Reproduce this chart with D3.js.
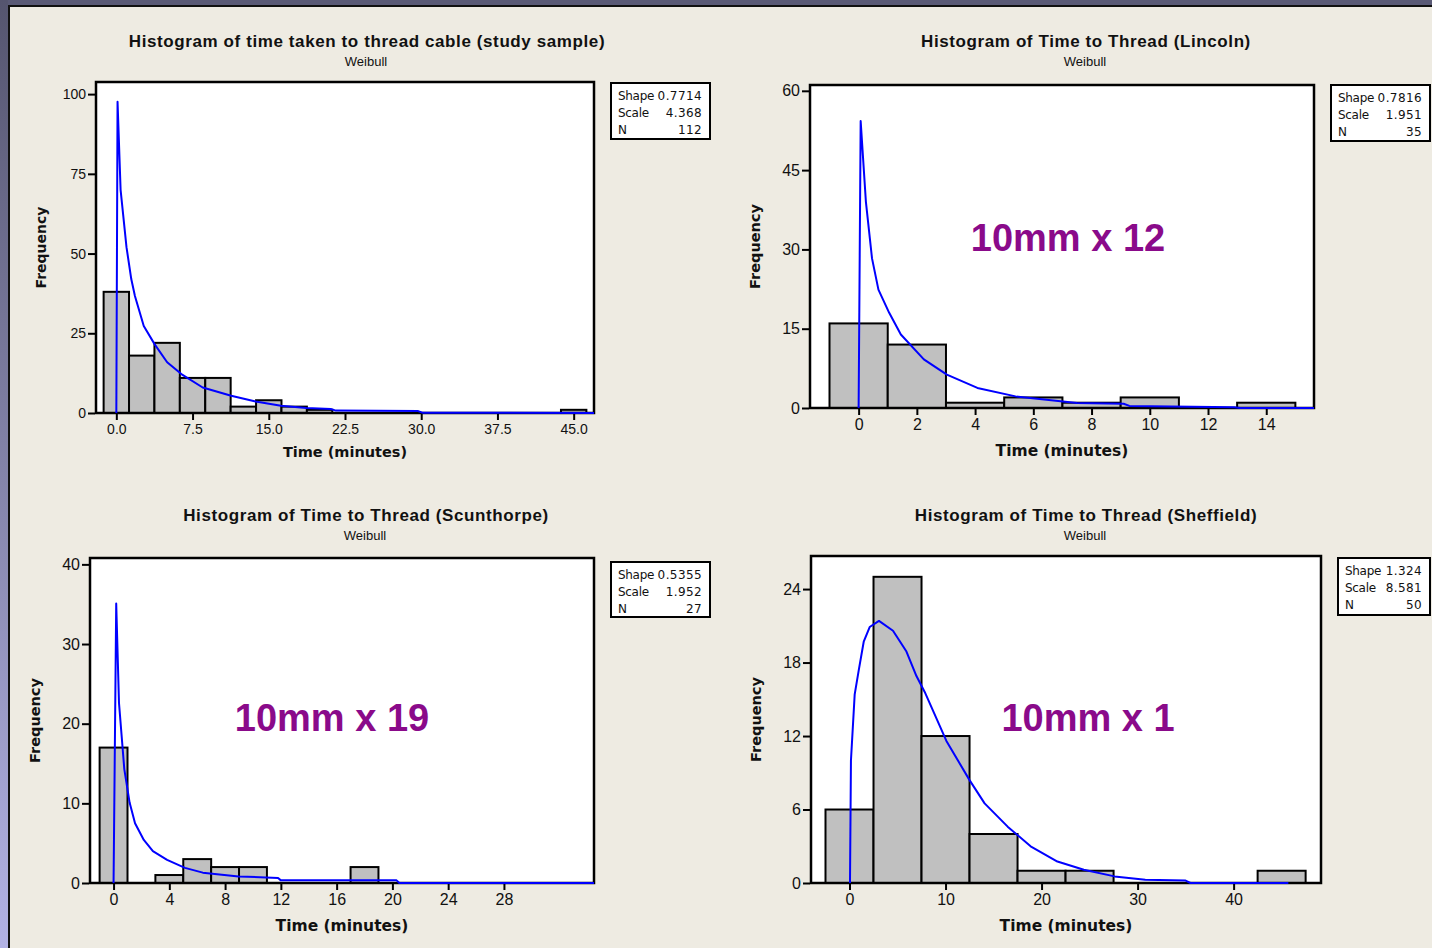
<!DOCTYPE html>
<html>
<head>
<meta charset="utf-8">
<script src="https://cdn.jsdelivr.net/npm/d3@7"></script>
<style>
  html, body { margin: 0; padding: 0; background: #eeebe2; }
  svg { display: block; }
</style>
</head>
<body>
<svg id="chart" width="1432" height="948"></svg>
<script>
// titles and labels
const titles = [
  'Histogram of time taken to thread cable (study sample)',
  'Histogram of Time to Thread (Lincoln)',
  'Histogram of Time to Thread (Scunthorpe)',
  'Histogram of Time to Thread (Sheffield)'
];
const subtitle = 'Weibull';
const xLabel = 'Time (minutes)';
const yLabel = 'Frequency';
const notes = ['', '10mm x 12', '10mm x 19', '10mm x 1'];

// histogram bins (centres) and counts
const binsStudy = [0, 2.5, 5, 7.5, 10, 12.5, 15, 17.5, 20, 22.5, 25, 27.5, 30, 32.5, 35, 37.5, 40, 42.5, 45];
const countsStudy = [38, 18, 22, 11, 11, 2, 4, 2, 1, 0, 0, 0, 0, 0, 0, 0, 0, 0, 1];
const binsLincoln = [0, 2, 4, 6, 8, 10, 12, 14];
const countsLincoln = [16, 12, 1, 2, 1, 2, 0, 1];
const binsScunthorpe = [0, 2, 4, 6, 8, 10, 12, 14, 16, 18];
const countsScunthorpe = [17, 0, 1, 3, 2, 2, 0, 0, 0, 2];
const binsSheffield = [0, 5, 10, 15, 20, 25, 30, 35, 40, 45];
const countsSheffield = [6, 25, 12, 4, 1, 1, 0, 0, 0, 1];
const binWidths = [2.5, 2, 2, 5];

// fitted weibull curves [time, frequency]
const fitStudy = [[0, 0], [0.12, 97.6], [0.42, 70], [1.0, 52], [1.47, 42], [1.83, 36.7], [2.7, 27.3], [3.76, 21.6],
  [5.0, 15.9], [6.4, 12.2], [8.5, 8.0], [11.3, 5.4], [13.7, 3.6], [16.2, 2.3], [18.7, 1.6], [21.1, 1.25],
  [21.6, 0.75], [29.7, 0.6], [30.1, 0.1], [47, 0]];
const fitLincoln = [[0, 0], [0.07, 54.3], [0.25, 39], [0.46, 28.3], [0.68, 22.4], [1.05, 18.0], [1.45, 13.9],
  [2.24, 9.2], [3.03, 6.3], [4.08, 3.8], [5.39, 2.2], [7.5, 0.95], [9.1, 0.8], [9.3, 0.4], [12.9, 0.15], [13.1, 0], [15.64, 0]];
const fitScunthorpe = [[0, 0], [0.19, 35.1], [0.39, 22.6], [0.77, 14.3], [1.15, 10.1], [1.54, 7.5], [2.17, 5.4],
  [2.82, 4.0], [3.84, 2.9], [5.12, 1.9], [6.4, 1.3], [8.97, 0.83], [11.8, 0.63], [12.0, 0.33], [20.3, 0.33],
  [20.5, 0], [34.46, 0]];
const fitSheffield = [[0.05, 0], [0.15, 10], [0.54, 15.4], [0.99, 17.5], [1.48, 19.7], [2.1, 20.9], [3.07, 21.4],
  [4.53, 20.6], [5.93, 18.9], [6.97, 16.9], [7.83, 15.6], [10.09, 11.6], [12.5, 8.4], [14.07, 6.5], [16.47, 4.6],
  [18.86, 3.0], [21.65, 1.75], [24.4, 1.08], [27.6, 0.54], [30.8, 0.27], [35.0, 0.2], [35.5, 0], [45.7, 0]];

// legend values
const shapes = ['0.7714', '0.7816', '0.5355', '1.324'];
const scales = ['4.368', '1.951', '1.952', '8.581'];
const ns = ['112', '35', '27', '50'];

// tick values
const xTicksStudy = [0, 7.5, 15, 22.5, 30, 37.5, 45];
const yTicksStudy = [0, 25, 50, 75, 100];
const xTicksLincoln = [0, 2, 4, 6, 8, 10, 12, 14];
const yTicksLincoln = [0, 15, 30, 45, 60];
const xTicksScunthorpe = [0, 4, 8, 12, 16, 20, 24, 28];
const yTicksScunthorpe = [0, 10, 20, 30, 40];
const xTicksSheffield = [0, 10, 20, 30, 40];
const yTicksSheffield = [0, 6, 12, 18, 24];

const W = 1432, H = 948;
const svg = d3.select('#chart');

// window edge
const defs = svg.append('defs');
const grad = defs.append('linearGradient').attr('id', 'edge')
  .attr('x1', 0).attr('y1', 0).attr('x2', 0).attr('y2', 1);
grad.append('stop').attr('offset', '0%').attr('stop-color', '#55556f');
grad.append('stop').attr('offset', '100%').attr('stop-color', '#b2b2e4');

svg.append('rect').attr('width', W).attr('height', H).attr('fill', '#eeebe2');
svg.append('rect').attr('x', 0).attr('y', 0).attr('width', W).attr('height', 5).attr('fill', '#5a5a76');
svg.append('rect').attr('x', 0).attr('y', 0).attr('width', 8).attr('height', H).attr('fill', 'url(#edge)');
svg.append('line').attr('x1', 8).attr('x2', W).attr('y1', 6).attr('y2', 6).attr('stroke', '#111').attr('stroke-width', 2);
svg.append('line').attr('x1', 9).attr('x2', 9).attr('y1', 5).attr('y2', H).attr('stroke', '#111').attr('stroke-width', 2);

// layout of the four panels (pixels) and per panel text sizes
const panels = [
  { bins: binsStudy, counts: countsStudy, fit: fitStudy, xTicks: xTicksStudy, yTicks: yTicksStudy,
    fmt: d3.format('.1f'), left: 96, right: 594, top: 82, bottom: 413, xDomain: [-2.0, 47.0], yMax: 103.8,
    cx: 367, titleY: 47, legend: [611, 83, 99, 56], note: null,
    tickFont: 14, labelFont: 14.5, freqFont: 14, labelGap: 44 },
  { bins: binsLincoln, counts: countsLincoln, fit: fitLincoln, xTicks: xTicksLincoln, yTicks: yTicksLincoln,
    fmt: d3.format('d'), left: 810, right: 1314, top: 85, bottom: 408, xDomain: [-1.67, 15.64], yMax: 61.1,
    cx: 1086, titleY: 47, legend: [1331, 85, 99, 56], note: [1068, 251],
    tickFont: 16, labelFont: 15.5, freqFont: 14.5, labelGap: 48 },
  { bins: binsScunthorpe, counts: countsScunthorpe, fit: fitScunthorpe, xTicks: xTicksScunthorpe, yTicks: yTicksScunthorpe,
    fmt: d3.format('d'), left: 90, right: 594, top: 558, bottom: 883, xDomain: [-1.69, 34.46], yMax: 40.8,
    cx: 366, titleY: 521, legend: [611, 562, 99, 55], note: [332, 731],
    tickFont: 16, labelFont: 15.5, freqFont: 14.5, labelGap: 48 },
  { bins: binsSheffield, counts: countsSheffield, fit: fitSheffield, xTicks: xTicksSheffield, yTicks: yTicksSheffield,
    fmt: d3.format('d'), left: 811, right: 1321, top: 556, bottom: 883, xDomain: [-4.01, 49.1], yMax: 26.7,
    cx: 1086, titleY: 521, legend: [1338, 558, 92, 57], note: [1088, 731],
    tickFont: 16, labelFont: 15.5, freqFont: 14.5, labelGap: 48 }
];

panels.forEach((p, i) => drawPanel(p, i));

function drawPanel(p, i) {
  const g = svg.append('g');
  const x = d3.scaleLinear().domain(p.xDomain).range([p.left, p.right]);
  const y = d3.scaleLinear().domain([0, p.yMax]).range([p.bottom, p.top]);
  const bw = binWidths[i];

  g.append('text')
    .attr('x', p.cx).attr('y', p.titleY)
    .attr('text-anchor', 'middle')
    .style('font-family', 'Liberation Sans, Arial, sans-serif')
    .style('font-weight', 'bold')
    .style('font-size', '17px')
    .style('letter-spacing', '0.6px')
    .attr('fill', '#111')
    .text(titles[i]);
  g.append('text')
    .attr('x', p.cx - 1).attr('y', p.titleY + 19)
    .attr('text-anchor', 'middle')
    .style('font-family', 'Liberation Sans, Arial, sans-serif')
    .style('font-size', '13px')
    .attr('fill', '#111')
    .text(subtitle);

  g.append('rect')
    .attr('x', p.left).attr('y', p.top)
    .attr('width', p.right - p.left).attr('height', p.bottom - p.top)
    .attr('fill', '#fff');

  const bars = p.bins.map((c, k) => ({ c: c, n: p.counts[k] })).filter(d => d.n > 0);
  g.selectAll('rect.bar')
    .data(bars)
    .join('rect')
    .attr('class', 'bar')
    .attr('x', d => x(d.c - bw / 2))
    .attr('width', d => x(d.c + bw / 2) - x(d.c - bw / 2))
    .attr('y', d => y(d.n))
    .attr('height', d => y(0) - y(d.n))
    .attr('fill', '#c0c0c0')
    .attr('stroke', '#000')
    .attr('stroke-width', 2);

  g.append('rect')
    .attr('x', p.left).attr('y', p.top)
    .attr('width', p.right - p.left).attr('height', p.bottom - p.top)
    .attr('fill', 'none')
    .attr('stroke', '#000')
    .attr('stroke-width', 2.5);

  const xAxis = g.append('g')
    .attr('transform', `translate(0,${p.bottom + 1})`)
    .call(d3.axisBottom(x).tickValues(p.xTicks).tickFormat(p.fmt).tickSize(6).tickPadding(4));
  const yAxis = g.append('g')
    .attr('transform', `translate(${p.left - 1},0)`)
    .call(d3.axisLeft(y).tickValues(p.yTicks).tickSize(7).tickPadding(2));
  [xAxis, yAxis].forEach(a => {
    a.select('.domain').remove();
    a.selectAll('.tick line').attr('stroke', '#000').attr('stroke-width', 2);
    a.selectAll('.tick text')
      .attr('fill', '#111')
      .style('font-family', 'Liberation Sans, Arial, sans-serif')
      .style('font-size', p.tickFont + 'px');
  });

  const line = d3.line()
    .x(d => x(d[0]))
    .y(d => y(d[1]));
  g.append('path')
    .datum(p.fit)
    .attr('d', line)
    .attr('fill', 'none')
    .attr('stroke', '#0000ff')
    .attr('stroke-width', 2)
    .attr('stroke-linejoin', 'round');

  g.append('text')
    .attr('x', (p.left + p.right) / 2).attr('y', p.bottom + p.labelGap)
    .attr('text-anchor', 'middle')
    .style('font-family', 'DejaVu Sans, Verdana, sans-serif')
    .style('font-weight', 'bold')
    .style('font-size', p.labelFont + 'px')
    .attr('fill', '#111')
    .text(xLabel);
  g.append('text')
    .attr('transform', `translate(${p.left - 50},${(p.top + p.bottom) / 2}) rotate(-90)`)
    .attr('text-anchor', 'middle')
    .style('font-family', 'DejaVu Sans, Verdana, sans-serif')
    .style('font-weight', 'bold')
    .style('font-size', p.freqFont + 'px')
    .attr('fill', '#111')
    .text(yLabel);

  // legend box
  const [lx, ly, lw, lh] = p.legend;
  const lg = g.append('g').attr('transform', `translate(${lx},${ly})`);
  lg.append('rect').attr('width', lw).attr('height', lh)
    .attr('fill', '#fff').attr('stroke', '#000').attr('stroke-width', 2);
  const rows = [['Shape', shapes[i]], ['Scale', scales[i]], ['N', ns[i]]];
  rows.forEach((r, k) => {
    lg.append('text').attr('x', 7).attr('y', 17 + k * 17)
      .style('font-family', 'DejaVu Sans, Verdana, sans-serif')
      .style('font-size', '12px').style('letter-spacing', '-0.3px')
      .attr('fill', '#111')
      .text(r[0]);
    lg.append('text').attr('x', lw - 8).attr('y', 17 + k * 17)
      .attr('text-anchor', 'end')
      .style('font-family', 'DejaVu Sans, Verdana, sans-serif')
      .style('font-size', '12px').style('letter-spacing', '0.4px')
      .attr('fill', '#111')
      .text(r[1]);
  });

  if (p.note) {
    g.append('text')
      .attr('x', p.note[0]).attr('y', p.note[1])
      .attr('text-anchor', 'middle')
      .style('font-family', 'Liberation Sans, Arial, sans-serif')
      .style('font-weight', 'bold')
      .style('font-size', '38px')
      .attr('fill', '#8a0a8a')
      .text(notes[i]);
  }
}
</script>
</body>
</html>
